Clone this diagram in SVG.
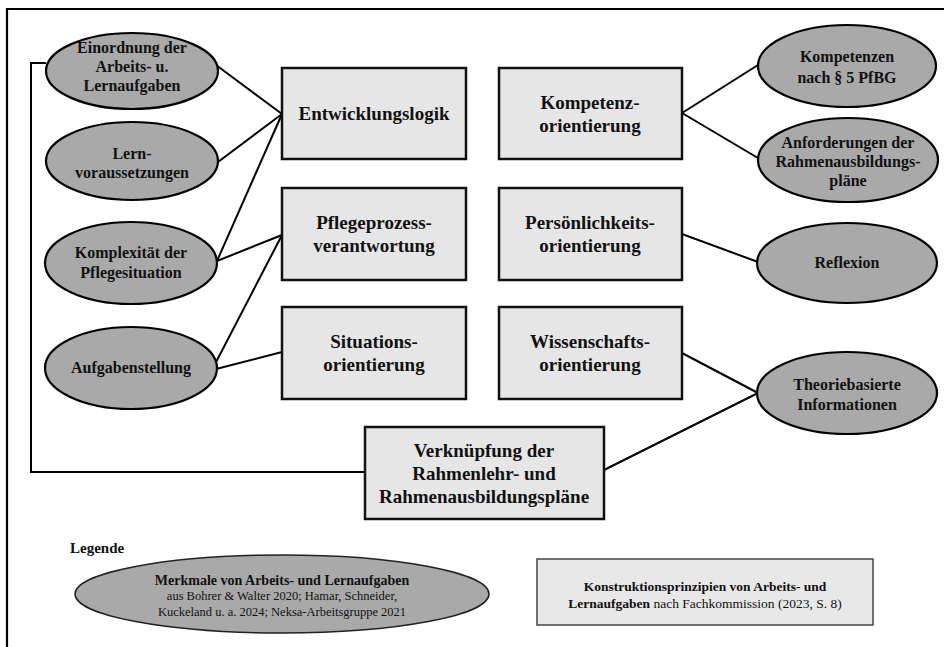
<svg xmlns="http://www.w3.org/2000/svg" width="944" height="647" viewBox="0 0 944 647">
<style>
.bg{fill:#ffffff}
.frame{fill:none;stroke:#000;stroke-width:2.2}
.box{fill:#e6e6e6;stroke:#111;stroke-width:2.5}
.ell{fill:#a9a9a9;stroke:#000;stroke-width:2.2}
.con{fill:none;stroke:#000;stroke-width:2}
.bt{font-family:"Liberation Serif","Times New Roman",serif;font-weight:bold;font-size:19px;fill:#111;text-anchor:middle}
.et{font-family:"Liberation Serif","Times New Roman",serif;font-weight:bold;font-size:16px;fill:#111;text-anchor:middle}
.lg{font-family:"Liberation Serif","Times New Roman",serif;fill:#111}
</style>
<rect class="bg" x="0" y="0" width="944" height="647"/>
<path class="frame" d="M944,9 H7 V647"/>

<g id="connectors">
  <line class="con" x1="216" y1="65" x2="282" y2="114"/>
  <line class="con" x1="218" y1="162" x2="282" y2="114"/>
  <line class="con" x1="217" y1="261" x2="282" y2="114"/>
  <line class="con" x1="217" y1="261" x2="282" y2="235"/>
  <line class="con" x1="214" y1="366" x2="282" y2="235"/>
  <line class="con" x1="216" y1="369" x2="282" y2="352"/>
  <line class="con" x1="682" y1="113" x2="758" y2="65"/>
  <line class="con" x1="682" y1="113" x2="758" y2="158"/>
  <line class="con" x1="682" y1="234" x2="758" y2="262"/>
  <line class="con" x1="682" y1="353" x2="758" y2="393"/>
  <line class="con" x1="604" y1="470" x2="758" y2="393"/>
  <path class="con" d="M46,63 H31 V472 H365"/>
</g>

<g id="einordnung">
  <ellipse class="ell" cx="132" cy="71" rx="86" ry="38"/>
  <text class="et" x="132" y="53">Einordnung der</text>
  <text class="et" x="132" y="72">Arbeits- u.</text>
  <text class="et" x="132" y="91">Lernaufgaben</text>
</g>
<g id="lernvoraussetzungen">
  <ellipse class="ell" cx="132" cy="161" rx="86" ry="39"/>
  <text class="et" x="132" y="159">Lern-</text>
  <text class="et" x="132" y="178">voraussetzungen</text>
</g>
<g id="komplexitaet">
  <ellipse class="ell" cx="131" cy="263" rx="86" ry="41"/>
  <text class="et" x="131" y="258">Komplexität der</text>
  <text class="et" x="131" y="278">Pflegesituation</text>
</g>
<g id="aufgabenstellung">
  <ellipse class="ell" cx="131" cy="368" rx="86" ry="41"/>
  <text class="et" x="131" y="373">Aufgabenstellung</text>
</g>

<g id="entwicklungslogik">
  <rect class="box" x="282" y="68" width="184" height="91"/>
  <text class="bt" x="374" y="120">Entwicklungslogik</text>
</g>
<g id="pflegeprozess">
  <rect class="box" x="282" y="188" width="184" height="92"/>
  <text class="bt" x="374" y="229">Pflegeprozess-</text>
  <text class="bt" x="374" y="252">verantwortung</text>
</g>
<g id="situation">
  <rect class="box" x="282" y="307" width="184" height="92"/>
  <text class="bt" x="374" y="348">Situations-</text>
  <text class="bt" x="374" y="371">orientierung</text>
</g>
<g id="kompetenz">
  <rect class="box" x="499" y="68" width="183" height="91"/>
  <text class="bt" x="590" y="109">Kompetenz-</text>
  <text class="bt" x="590" y="132">orientierung</text>
</g>
<g id="persoenlichkeit">
  <rect class="box" x="499" y="188" width="183" height="92"/>
  <text class="bt" x="590" y="229">Persönlichkeits-</text>
  <text class="bt" x="590" y="252">orientierung</text>
</g>
<g id="wissenschaft">
  <rect class="box" x="499" y="307" width="183" height="92"/>
  <text class="bt" x="590" y="348">Wissenschafts-</text>
  <text class="bt" x="590" y="371">orientierung</text>
</g>
<g id="verknuepfung">
  <rect class="box" x="365" y="427" width="239" height="92"/>
  <text class="bt" x="484" y="457">Verknüpfung der</text>
  <text class="bt" x="484" y="480">Rahmenlehr- und</text>
  <text class="bt" x="484" y="503">Rahmenausbildungspläne</text>
</g>

<g id="kompetenzen-pfbg">
  <ellipse class="ell" cx="847" cy="66" rx="89" ry="41"/>
  <text class="et" x="847" y="62">Kompetenzen</text>
  <text class="et" x="847" y="83">nach § 5 PfBG</text>
</g>
<g id="anforderungen">
  <ellipse class="ell" cx="848" cy="160" rx="90" ry="42"/>
  <text class="et" x="848" y="148">Anforderungen der</text>
  <text class="et" x="848" y="167">Rahmenausbildungs-</text>
  <text class="et" x="848" y="186">pläne</text>
</g>
<g id="reflexion">
  <ellipse class="ell" cx="847" cy="263" rx="90" ry="40"/>
  <text class="et" x="847" y="268">Reflexion</text>
</g>
<g id="theoriebasiert">
  <ellipse class="ell" cx="847" cy="393" rx="90" ry="41"/>
  <text class="et" x="847" y="390">Theoriebasierte</text>
  <text class="et" x="847" y="410">Informationen</text>
</g>

<g id="legende">
  <text class="lg" x="70" y="553" font-size="15" font-weight="bold">Legende</text>
</g>
<g id="legende-merkmale">
  <ellipse cx="282" cy="594" rx="207" ry="39" fill="#a9a9a9" stroke="#222" stroke-width="1.5"/>
  <text class="lg" x="282" y="585" font-size="14" font-weight="bold" text-anchor="middle">Merkmale von Arbeits- und Lernaufgaben</text>
  <text class="lg" x="282" y="600" font-size="12.5" text-anchor="middle">aus Bohrer &amp; Walter 2020; Hamar, Schneider,</text>
  <text class="lg" x="282" y="616" font-size="12.5" text-anchor="middle">Kuckeland u. a. 2024; Neksa-Arbeitsgruppe 2021</text>
</g>
<g id="legende-konstruktion">
  <rect x="537" y="559" width="336" height="66" fill="#e8e8e8" stroke="#444" stroke-width="1.5"/>
  <text class="lg" x="705" y="591" font-size="13.5" font-weight="bold" text-anchor="middle">Konstruktionsprinzipien von Arbeits- und</text>
  <text class="lg" x="705" y="608" font-size="13.5" text-anchor="middle"><tspan font-weight="bold">Lernaufgaben</tspan> nach Fachkommission (2023, S. 8)</text>
</g>
</svg>
